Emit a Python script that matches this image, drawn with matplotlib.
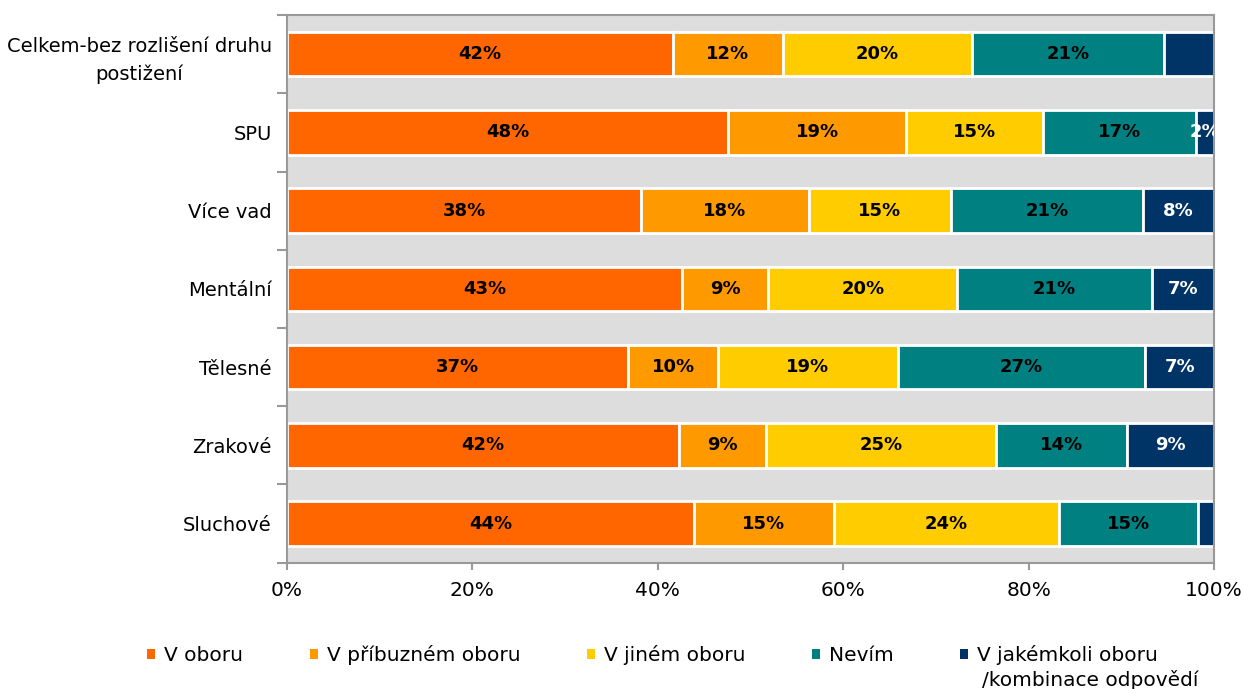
import numpy as np
import matplotlib.pyplot as plt

plt.rcParams['font.family'] = ['DejaVu Sans']

# categories from top to bottom
categories = ['Celkem-bez rozlišení druhu\npostižení', 'SPU', 'Více vad',
              'Mentální', 'Tělesné', 'Zrakové', 'Sluchové']

series_names = ['V oboru', 'V příbuzném oboru', 'V jiném oboru', 'Nevím',
                'V jakémkoli oboru']
v_oboru = [41.6, 47.6, 38.2, 42.6, 36.8, 42.3, 43.9]
v_pribuznem = [11.9, 19.2, 18.1, 9.3, 9.7, 9.4, 15.1]
v_jinem = [20.4, 14.7, 15.3, 20.4, 19.4, 24.8, 24.3]
nevim = [20.7, 16.6, 20.7, 21.0, 26.7, 14.1, 15.0]
v_jakemkoli = [5.4, 1.9, 7.7, 6.7, 7.4, 9.4, 1.7]

# (row, series) pairs without a data label
label_hide = [(0, 4), (6, 4)]

colors = ['#FF6600', '#FF9900', '#FFCC00', '#008080', '#003366']
label_colors = ['black', 'black', 'black', 'black', 'white']

data = [v_oboru, v_pribuznem, v_jinem, nevim, v_jakemkoli]

fig = plt.figure(figsize=(12.43, 6.89), dpi=100)
ax = fig.add_axes([0.2309, 0.1833, 0.7458, 0.7949])
ax.set_facecolor('#DDDDDD')

y = np.arange(len(categories))
left = np.zeros(len(categories))
for s, vals in enumerate(data):
    vals = np.array(vals)
    bars = ax.barh(y, vals, left=left, height=0.57, color=colors[s],
                   edgecolor='white', linewidth=2, label=series_names[s])
    for r, (v, l) in enumerate(zip(vals, left)):
        if (r, s) in label_hide:
            continue
        ax.text(l + v / 2, r, f"{v:.0f}%", ha='center', va='center',
                fontsize=13, fontweight='bold', color=label_colors[s],
                clip_on=True)
    left += vals

ax.set_xlim(0, 100)
ax.set_ylim(len(categories) - 0.5, -0.5)
ax.set_xticks(np.arange(0, 101, 20))
ax.set_xticklabels([f"{t}%" for t in range(0, 101, 20)], fontsize=14.5)
ax.set_yticks(y)
ax.set_yticklabels(categories, fontsize=14, multialignment='center',
                   linespacing=1.55)
ax.set_yticks(np.arange(-0.5, len(categories), 1), minor=True)
ax.tick_params(axis='y', which='major', length=0, pad=11)
ax.tick_params(axis='y', which='minor', length=7, width=1.5, color='#999999')
ax.tick_params(axis='x', length=5, width=1.5, color='#999999', pad=8)

for sp in ax.spines.values():
    sp.set_color('#999999')
    sp.set_linewidth(1.5)

leg = fig.legend(loc='center', bbox_to_anchor=(0.525, 0.049), ncol=5,
                 frameon=False, fontsize=14.5, handlelength=0.4,
                 handleheight=0.4, handletextpad=0.45, columnspacing=3.3)
for h in leg.legend_handles:
    h.set_linewidth(0)

# second line of the last legend entry
fig.canvas.draw()
bb = leg.get_texts()[-1].get_window_extent()
fig.text((bb.x0 + 5) / fig.bbox.width, (bb.y0 - 5) / fig.bbox.height,
         '/kombinace odpovědí', fontsize=14.5, ha='left', va='top')

fig.savefig('out.png', dpi=100)
